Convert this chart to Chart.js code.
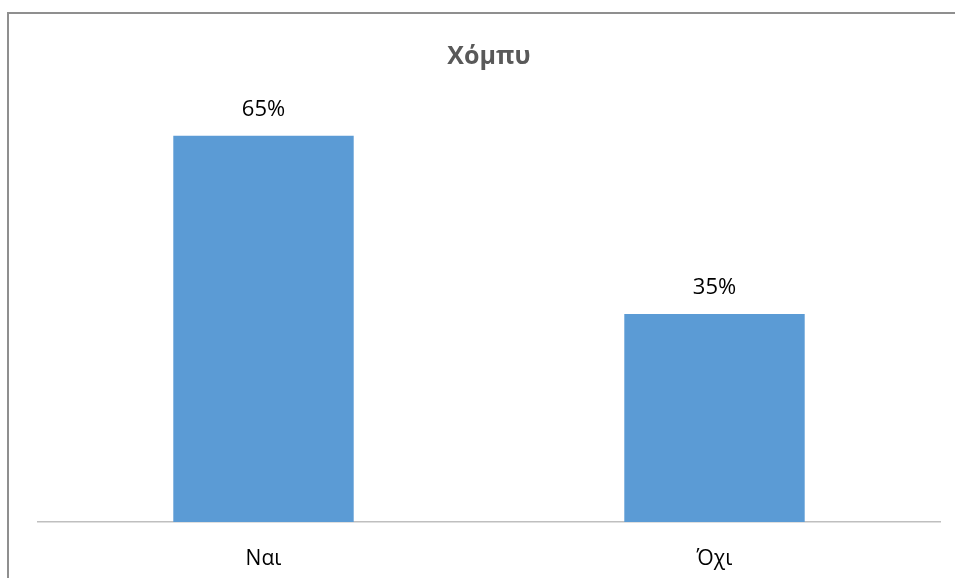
<!DOCTYPE html>
<html lang="el">
<head>
  <meta charset="UTF-8">
  <title>Χόμπυ</title>
  <style>
    * { box-sizing: border-box; margin: 0; padding: 0; }
    html, body { width: 955px; height: 578px; overflow: hidden; background: #fff; }
    .frame {
      position: absolute;
      left: 7px; top: 12px; right: -20px; bottom: -20px;
      border-left: 2px solid #8f8f8f;
      border-top: 2px solid #8f8f8f;
    }
    .wrap { position: absolute; left: 0; top: 0; width: 955px; height: 578px; }
  </style>
</head>
<body>
  <div class="frame"></div>
  <div class="wrap"><canvas id="chart" width="955" height="578"></canvas></div>

  <script src="https://cdn.jsdelivr.net/npm/chart.js@4"></script>
  <script>
    const categories = ['Ναι', 'Όχι'];
    const percentages = [65, 35];
    const chartTitle = 'Χόμπυ';

    const FONT = "'Open Sans', 'Noto Sans', sans-serif";

    // writes "NN%" above each bar
    const valueLabels = {
      id: 'valueLabels',
      afterDatasetsDraw(chart) {
        const ctx = chart.ctx;
        const meta = chart.getDatasetMeta(0);
        ctx.save();
        ctx.font = `22px ${FONT}`;
        ctx.fillStyle = '#000';
        ctx.textAlign = 'center';
        ctx.textBaseline = 'middle';
        meta.data.forEach((bar, i) => {
          ctx.fillText(percentages[i] + '%', bar.x, bar.y - 26);
        });
        ctx.restore();
      }
    };

    new Chart(document.getElementById('chart'), {
      type: 'bar',
      data: {
        labels: categories,
        datasets: [{
          data: percentages,
          backgroundColor: '#5b9bd5',
          barPercentage: 0.8,
          categoryPercentage: 0.5
        }]
      },
      options: {
        responsive: false,
        animation: false,
        layout: { padding: { left: 38, right: 15, top: 0, bottom: 0 } },
        scales: {
          x: {
            grid: { display: false },
            border: { display: true, color: '#bfbfbf', width: 1.5 },
            ticks: { color: '#000', font: { family: FONT, size: 21 }, padding: 16 },
            afterFit(scale) { scale.height = 56; }
          },
          y: { display: false, min: 0, max: 70 }
        },
        plugins: {
          legend: { display: false },
          tooltip: { enabled: false },
          title: {
            display: true,
            text: chartTitle,
            color: '#595959',
            font: { family: FONT, size: 25, weight: 'bold', lineHeight: 1.2 },
            padding: { top: 42, bottom: 34 }
          }
        }
      },
      plugins: [valueLabels]
    });
  </script>
</body>
</html>
